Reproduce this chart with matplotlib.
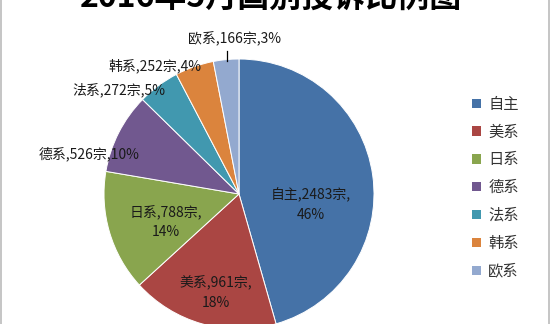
import matplotlib
matplotlib.use('Agg')
import matplotlib.pyplot as plt
from matplotlib.lines import Line2D
from matplotlib.patches import Patch
import numpy as np

plt.rcParams['font.family'] = ['Noto Sans CJK SC', 'DejaVu Sans']

# 数据
categories = ['自主', '美系', '日系', '德系', '法系', '韩系', '欧系']
counts = [2483, 961, 788, 526, 272, 252, 166]
percents = [46, 18, 14, 10, 5, 4, 3]
colors = ['#4572A7', '#AA4643', '#89A54E', '#71588F', '#4198AF', '#DB843D', '#93A9CF']

W, H = 550, 324
fig = plt.figure(figsize=(W / 100, H / 100), dpi=100)
fig.patch.set_facecolor('white')

# 饼图中心与半径 (像素)
cx, cy, R = 239, 194, 135
ax = fig.add_axes([0, 0, 1, 1])
ax.pie(counts, colors=colors, startangle=90, counterclock=False,
       wedgeprops=dict(edgecolor='white', linewidth=0.7))
ax.set_xlim(-cx / R, (W - cx) / R)
ax.set_ylim(-(H - cy) / R, cy / R)
ax.set_aspect('auto')
ax.axis('off')

# 标签位置 (以半径为单位)
label_pos = [(0.53, -0.08), (-0.17, -0.73), (-0.54, -0.21),
             (-1.11, 0.30), (-0.89, 0.77), (-0.625, 0.95), (-0.03, 1.15)]
inside = [True, True, True, False, False, False, False]
for cat, n, p, (x, y), ins in zip(categories, counts, percents, label_pos, inside):
    if ins:
        txt = f'{cat},{n}宗,\n{p}%'
    else:
        txt = f'{cat},{n}宗,{p}%'
    ax.text(x, y, txt, ha='center', va='center', fontsize=10,
            color='#1a1a1a', linespacing=1.5)

# 欧系引导线
ax.plot([-0.09, -0.09], [1.06, 0.985], color='black', linewidth=0.9)

# 标题 (原图顶部被截断)
fig.text(271 / W, 1 - 7 / H, '2016年5月国别投诉比例图', ha='center', va='baseline',
         fontsize=23, fontweight='bold', color='black')

# 图例
handles = [Patch(facecolor=c, edgecolor='none') for c in colors]
fig.legend(handles, categories, loc='upper left', bbox_to_anchor=(466 / W, 1 - 89.5 / H),
           frameon=False, fontsize=11, handlelength=0.55, handleheight=0.55,
           handletextpad=0.5, labelspacing=0.71, borderaxespad=0,
           labelcolor='#333333')

# 边框
fig.add_artist(Line2D([0.5 / W, 0.5 / W], [0, 1], color='#BBBBBB', linewidth=1.2,
                      transform=fig.transFigure))
fig.add_artist(Line2D([549 / W, 549 / W], [0, 1], color='#BBBBBB', linewidth=1.2,
                      transform=fig.transFigure))

fig.savefig('out.png', dpi=100)
